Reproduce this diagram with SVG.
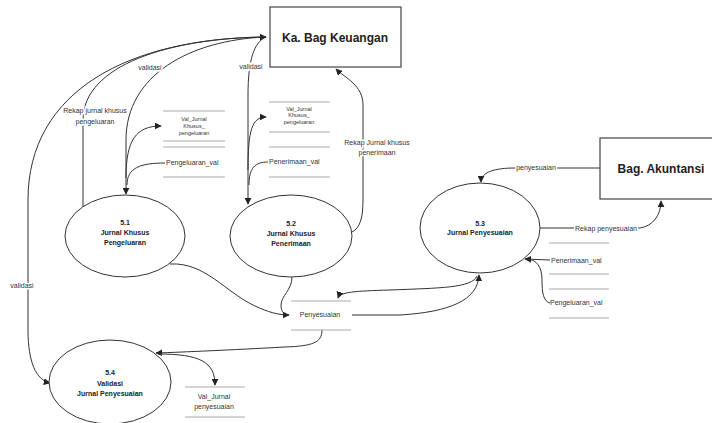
<svg xmlns="http://www.w3.org/2000/svg" width="712" height="423" viewBox="0 0 712 423">
<defs>
<marker id="arr" viewBox="0 0 10 10" refX="9" refY="5" markerWidth="7" markerHeight="7" markerUnits="userSpaceOnUse" orient="auto">
<path d="M0,0 L10,5 L0,10 z" fill="#222"/>
</marker>
</defs>
<style>
.ent{fill:#fff;stroke:#444;stroke-width:1.2}
.proc{fill:#fff;stroke:#333;stroke-width:1}
.st{stroke:#aaa;stroke-width:1}
.c{fill:none;stroke:#333;stroke-width:1}
.a{marker-end:url(#arr)}
text{font-family:"Liberation Sans",Arial,sans-serif;fill:#333}
.big{font-size:12px;font-weight:bold;fill:#222;text-anchor:middle}
.pt{font-size:7px;font-weight:bold;text-anchor:middle;fill:#222}
.lbl{font-size:7px;text-anchor:middle;paint-order:stroke;stroke:#fff;stroke-width:3px}
.sl{font-size:7px}
.tiny{font-size:5.5px;text-anchor:middle}
.mid{text-anchor:middle}
</style>
<rect width="712" height="423" fill="#fff"/>

<g id="connectors">
<path class="c a" d="M266,37 C130,38 28,90 28,200 L28,330 C28,362 36,380 50,383"/>
<path class="c a" d="M83,207 L83,120 C83,65 170,38 266,37"/>
<path class="c a" d="M266,37 C190,40 126,75 126,140 L126,194"/>
<path class="c a" d="M266,37 C254,42 248,60 248,95 L248,204"/>
<path class="c a" d="M126,178 C126,140 136,126 161,126"/>
<path class="c" d="M165,163 C140,163 127,168 127,185"/>
<path class="c a" d="M248,170 C248,130 252,117 266,117"/>
<path class="c" d="M268,162 C255,162 249,168 249,185"/>
<path class="c a" d="M352,232 C360,228 363,218 363,200 L363,105 C363,85 345,78 336,69"/>
<path class="c a" d="M600,168 L515,168 C495,168 481,172 481,182"/>
<path class="c a" d="M540,228 L640,228 C653,226 661,215 661,201"/>
<path class="c a" d="M550,260 L525,259"/>
<path class="c" d="M550,303 C543,301 542,292 542,280 C542,266 536,260 528,259"/>
<path class="c a" d="M170,264 C205,262 225,292 255,306 C268,312 278,315 289,315"/>
<path class="c" d="M292,277 C292,290 281,296 281,305 C281,312 284,315 289,315"/>
<path class="c a" d="M477,276 C472,288 440,288 390,290 C355,291 340,292 338,298"/>
<path class="c a" d="M352,315 L400,315 C450,312 478,300 479,275"/>
<path class="c a" d="M322,330 C322,343 312,346 285,347 C230,350 185,352 156,353"/>
<path class="c a" d="M158,354 C200,354 215,362 215,385"/>
<text class="lbl" x="22" y="288">validasi</text>
<text class="lbl" x="95" y="113">Rekap jurnal khusus</text>
<text class="lbl" x="95" y="124">pengeluaran</text>
<text class="lbl" x="150" y="70">validasi</text>
<text class="lbl" x="251" y="69">validasi</text>
<text class="lbl" x="377" y="145">Rekap Jurnal khusus</text>
<text class="lbl" x="377" y="155">penerimaan</text>
<text class="lbl" x="536" y="170">penyesuaian</text>
<text class="lbl" x="606" y="231">Rekap penyesuaian</text>
</g>

<g id="ka-bag-keuangan">
<rect class="ent" x="270" y="7" width="131" height="60"/>
<text class="big" x="335" y="42">Ka. Bag Keuangan</text>
</g>
<g id="bag-akuntansi">
<rect class="ent" x="600" y="138" width="116" height="61"/>
<text class="big" x="661" y="173">Bag. Akuntansi</text>
</g>

<g id="p51">
<ellipse class="proc" cx="125" cy="236" rx="60" ry="41"/>
<text class="pt" x="125" y="225">5.1</text>
<text class="pt" x="125" y="235">Jurnal Khusus</text>
<text class="pt" x="125" y="245">Pengeluaran</text>
</g>
<g id="p52">
<ellipse class="proc" cx="291" cy="236" rx="61" ry="41"/>
<text class="pt" x="291" y="226">5.2</text>
<text class="pt" x="291" y="236">Jurnal Khusus</text>
<text class="pt" x="291" y="246">Penerimaan</text>
</g>
<g id="p53">
<ellipse class="proc" cx="480" cy="228" rx="60" ry="45"/>
<text class="pt" x="480" y="226">5.3</text>
<text class="pt" x="480" y="235">Jurnal Penyesuaian</text>
</g>
<g id="p54">
<ellipse class="proc" cx="110" cy="382" rx="61" ry="42"/>
<text class="pt" x="110" y="375">5.4</text>
<text class="pt" x="110" y="386">Validasi</text>
<text class="pt" x="110" y="396">Jurnal Penyesuaian</text>
</g>

<g id="ds-val-pengeluaran-1">
<line class="st" x1="163" y1="111" x2="225" y2="111"/>
<line class="st" x1="163" y1="141" x2="225" y2="141"/>
<text class="tiny" x="194" y="121">Val_Jurnal</text>
<text class="tiny" x="194" y="128">Khusus_</text>
<text class="tiny" x="194" y="135">pengeluaran</text>
</g>
<g id="ds-pengeluaran-val-1">
<line class="st" x1="163" y1="147" x2="225" y2="147"/>
<line class="st" x1="163" y1="177" x2="225" y2="177"/>
<text class="sl" x="166" y="165">Pengeluaran_val</text>
</g>
<g id="ds-val-pengeluaran-2">
<line class="st" x1="269" y1="102" x2="330" y2="102"/>
<line class="st" x1="269" y1="132" x2="330" y2="132"/>
<text class="tiny" x="299" y="111">Val_Jurnal</text>
<text class="tiny" x="299" y="117">Khusus_</text>
<text class="tiny" x="299" y="124">pengeluaran</text>
</g>
<g id="ds-penerimaan-val-1">
<line class="st" x1="269" y1="147" x2="330" y2="147"/>
<line class="st" x1="269" y1="177" x2="330" y2="177"/>
<text class="sl" x="269" y="164">Penerimaan_val</text>
</g>
<g id="ds-penerimaan-val-2">
<line class="st" x1="549" y1="243" x2="609" y2="243"/>
<line class="st" x1="549" y1="274" x2="609" y2="274"/>
<text class="sl" x="551" y="263">Penerimaan_val</text>
</g>
<g id="ds-pengeluaran-val-2">
<line class="st" x1="549" y1="289" x2="609" y2="289"/>
<line class="st" x1="549" y1="318" x2="609" y2="318"/>
<text class="sl" x="550" y="305">Pengeluaran_val</text>
</g>
<g id="ds-penyesuaian">
<line class="st" x1="291" y1="301" x2="351" y2="301"/>
<line class="st" x1="291" y1="330" x2="351" y2="330"/>
<text class="sl mid" x="320" y="317">Penyesuaian</text>
</g>
<g id="ds-val-penyesuaian">
<line class="st" x1="185" y1="387" x2="245" y2="387"/>
<line class="st" x1="185" y1="417" x2="245" y2="417"/>
<text class="sl mid" x="214" y="399">Val_Jurnal</text>
<text class="sl mid" x="214" y="409">penyesuaian</text>
</g>
</svg>
